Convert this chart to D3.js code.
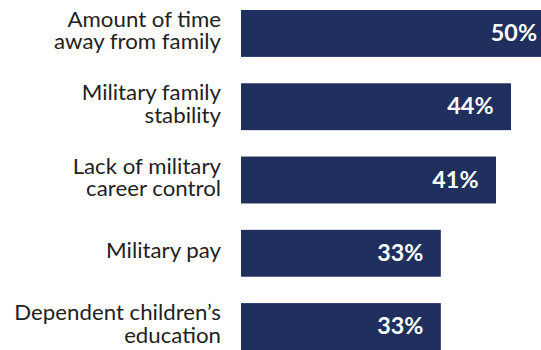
<!DOCTYPE html>
<html>
<head>
<meta charset="utf-8">
<script src="https://cdn.jsdelivr.net/npm/d3@7"></script>
<style>
  body { margin: 0; background: #fff; }
  svg { display: block; }
</style>
</head>
<body>
<div id="chart"></div>
<script>
// Categories (label lines) and values
const categories = [
  ['Amount of time', 'away from family'],
  ['Military family', 'stability'],
  ['Lack of military', 'career control'],
  ['Military pay'],
  ['Dependent children\u2019s', 'education']
];
// bar lengths as measured (first bar runs off the edge); printed labels as shown
const values = [52.5, 45, 42.5, 33.3, 33.3];
const valueLabels = ['50%', '44%', '41%', '33%', '33%'];

const width = 541;
const height = 350;
const barLeft = 241;
const stretch = 1.06; // text in the picture is a bit wide

const svg = d3.select('#chart')
  .append('svg')
  .attr('width', width)
  .attr('height', height);

const x = d3.scaleLinear()
  .domain([0, 50])
  .range([barLeft, barLeft + 300]);

const y = d3.scaleBand()
  .domain(d3.range(values.length))
  .range([10, 350])
  .paddingInner(0.36)
  .paddingOuter(0);

const mid = i => y(i) + y.bandwidth() / 2;

// Bars
svg.append('g')
  .selectAll('rect')
  .data(values)
  .enter().append('rect')
  .attr('x', x(0))
  .attr('y', (d, i) => y(i))
  .attr('width', d => x(d) - x(0))
  .attr('height', y.bandwidth())
  .attr('fill', '#1f2f5e');

// Value labels
svg.append('g')
  .selectAll('text')
  .data(values)
  .enter().append('text')
  .attr('transform', (d, i) =>
    `translate(${Math.min(x(d) - 17.5, width - 4)},${mid(i) + 7.5}) scale(${stretch},1)`)
  .attr('text-anchor', 'end')
  .attr('font-family', 'Lato, sans-serif')
  .attr('font-weight', 'bold')
  .attr('font-size', 22)
  .attr('fill', '#fff')
  .text((d, i) => valueLabels[i]);

// Category labels
const lineH = 22.5;
const cat = svg.append('g')
  .selectAll('text')
  .data(categories)
  .enter().append('text')
  .attr('text-anchor', 'end')
  .attr('font-family', 'Lato, sans-serif')
  .attr('font-size', 21)
  .attr('fill', '#222')
  .attr('transform', (d, i) => {
    const yy = d.length > 1 ? mid(i) - 6.5 : mid(i) + 5;
    return `translate(221,${yy}) scale(${stretch},1)`;
  });

cat.selectAll('tspan')
  .data(d => d)
  .enter().append('tspan')
  .attr('x', 0)
  .attr('dy', (d, j) => j === 0 ? 0 : lineH)
  .text(d => d);
</script>
</body>
</html>
